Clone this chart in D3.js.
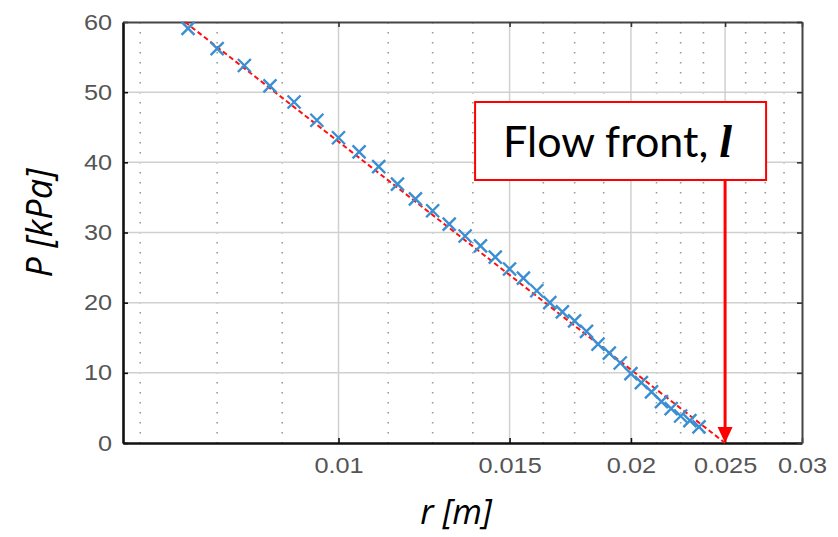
<!DOCTYPE html>
<html>
<head>
<meta charset="utf-8">
<script src="https://cdn.jsdelivr.net/npm/d3@7"></script>
<style>
  body { margin: 0; background: #fff; }
</style>
</head>
<body>
<div id="chart"></div>
<script>
// radius samples [m] and measured pressure [kPa]
let radius = [0.007, 0.0075, 0.008, 0.0085, 0.009, 0.0095, 0.010, 0.0105, 0.011, 0.0115,
              0.012, 0.0125, 0.013, 0.0135, 0.014, 0.0145, 0.015, 0.0155, 0.016, 0.0165,
              0.017, 0.0175, 0.018, 0.0185, 0.019, 0.0195, 0.020, 0.0205, 0.021, 0.0215,
              0.022, 0.0225, 0.023, 0.0235];
let pressure = [59.1, 56.2, 53.8, 50.9, 48.6, 46.0, 43.5, 41.5, 39.4, 36.9,
                34.8, 33.1, 31.2, 29.5, 28.1, 26.5, 24.8, 23.5, 21.7, 20.0,
                18.7, 17.4, 15.9, 14.1, 12.8, 11.4, 9.9, 8.6, 7.3, 5.9,
                4.9, 3.85, 3.2, 2.3];
// fitted line: from inlet to flow front l
let fitR = [0.00695, 0.025];
let fitP = [60, 0];
let flowFront = 0.025;

let xTicks = [0.01, 0.015, 0.02, 0.025, 0.03];
let xTickLabels = ['0.01', '0.015', '0.02', '0.025', '0.03'];
let xMinor = [0.00625, 0.0075, 0.00875, 0.01125, 0.0125, 0.01375, 0.01625, 0.0175, 0.01875,
              0.02125, 0.0225, 0.02375, 0.02625, 0.0275, 0.02875];
let yTicks = [0, 10, 20, 30, 40, 50, 60];

let dim = {'width': 838, 'height': 537};
let m = {left: 123, top: 22, right: 36, bottom: 94};
let w = dim.width - m.left - m.right;
let h = dim.height - m.top - m.bottom;

let svg = d3.select('#chart').append('svg').attr('width', dim.width).attr('height', dim.height);
let g = svg.append('g').attr('transform', `translate(${m.left},${m.top})`);

let x = d3.scaleLog().domain([0.006, 0.03]).range([0, w]);
let y = d3.scaleLinear().domain([0, 60]).range([h, 0]);

// minor dotted grid
g.selectAll('.minor').data(xMinor).enter().append('line')
    .attr('x1', d => x(d)).attr('x2', d => x(d))
    .attr('y1', 0).attr('y2', h)
    .attr('stroke', '#9a9a9a').attr('stroke-width', 1.6)
    .attr('stroke-dasharray', '1.6,8.4');

// major grid
g.selectAll('.vgrid').data(xTicks.slice(0, 4)).enter().append('line')
    .attr('x1', d => x(d)).attr('x2', d => x(d))
    .attr('y1', 0).attr('y2', h)
    .attr('stroke', '#d0d0d0').attr('stroke-width', 1.5);
g.selectAll('.hgrid').data(yTicks.slice(1, 6)).enter().append('line')
    .attr('x1', 0).attr('x2', w)
    .attr('y1', d => y(d)).attr('y2', d => y(d))
    .attr('stroke', '#d0d0d0').attr('stroke-width', 1.5);

// axes (ticks inward)
let axB = g.append('g').attr('transform', `translate(0,${h})`)
    .call(d3.axisBottom(x).tickValues(xTicks).tickFormat((d, i) => xTickLabels[i]).tickSizeInner(-5).tickSizeOuter(0).tickPadding(14));
let axL = g.append('g')
    .call(d3.axisLeft(y).tickValues(yTicks).tickSizeInner(-5).tickSizeOuter(0).tickPadding(11));
let axT = g.append('g')
    .call(d3.axisTop(x).tickValues(xTicks).tickFormat('').tickSizeInner(-5).tickSizeOuter(0));
let axR = g.append('g').attr('transform', `translate(${w},0)`)
    .call(d3.axisRight(y).tickValues(yTicks).tickFormat('').tickSizeInner(-5).tickSizeOuter(0));

[axB, axL].forEach(a => {
    a.select('.domain').attr('stroke', '#111').attr('stroke-width', 2.6);
    a.selectAll('.tick line').attr('stroke', '#111').attr('stroke-width', 1.6);
    a.selectAll('.tick text')
        .style('font-family', '"Liberation Sans", Arial, sans-serif')
        .style('font-size', '22px')
        .style('fill', '#555')
        .attr('transform', 'scale(1.15,1)');
});
axL.selectAll('.tick text').attr('x', -11 / 1.15);
[axT, axR].forEach(a => {
    a.select('.domain').attr('stroke', '#444').attr('stroke-width', 2);
    a.selectAll('.tick line').attr('stroke', '#333').attr('stroke-width', 1.6);
});
axB.selectAll('.tick text').attr('dy', '0.71em');

// fitted dashed line
let line = d3.line().x(d => x(d[0])).y(d => y(d[1]));
g.append('path')
    .datum(fitR.map((r, i) => [r, fitP[i]]))
    .attr('d', line)
    .attr('fill', 'none')
    .attr('stroke', '#ff1010').attr('stroke-width', 2)
    .attr('stroke-dasharray', '5,3');

// markers
let s = 6.5;
g.selectAll('.pt').data(radius.map((r, i) => [r, pressure[i]])).enter().append('path')
    .attr('d', d => {
        let cx = x(d[0]), cy = y(d[1]);
        return `M${cx - s},${cy - s}L${cx + s},${cy + s}M${cx - s},${cy + s}L${cx + s},${cy - s}`;
    })
    .attr('stroke', '#3a8fd2').attr('stroke-width', 2.4).attr('fill', 'none');

// annotation: flow front arrow + box
let ax = x(flowFront);
let boxTop = 80, boxBot = 158;
g.append('line')
    .attr('x1', ax).attr('x2', ax)
    .attr('y1', boxBot).attr('y2', h - 14)
    .attr('stroke', '#ff0000').attr('stroke-width', 3);
g.append('path')
    .attr('d', `M${ax - 7.5},${h - 16}L${ax + 7.5},${h - 16}L${ax},${h}Z`)
    .attr('fill', '#ff0000');
g.append('rect')
    .attr('x', ax - 250).attr('y', boxTop)
    .attr('width', 291).attr('height', boxBot - boxTop)
    .attr('fill', '#fff').attr('stroke', '#ff0000').attr('stroke-width', 2);
let ann = g.append('text')
    .attr('x', ax - 222).attr('y', 135)
    .style('font-family', 'Lato, "Open Sans", sans-serif')
    .attr('font-size', 43).attr('fill', '#000');
ann.append('tspan').text('Flow front, ');
ann.append('tspan').text('l')
    .style('font-family', '"Liberation Serif", "DejaVu Serif", serif')
    .style('font-style', 'italic').style('font-weight', 'bold').attr('font-size', 46);

// axis titles
svg.append('text')
    .attr('x', 456).attr('y', 524)
    .attr('text-anchor', 'middle')
    .style('font-family', '"Open Sans", Lato, sans-serif')
    .attr('font-style', 'italic').attr('font-size', 34)
    .text('r [m]');
svg.append('text')
    .attr('transform', 'translate(52,223) rotate(-90)')
    .attr('text-anchor', 'middle')
    .style('font-family', '"Open Sans", Lato, sans-serif')
    .attr('font-style', 'italic').attr('font-size', 36)
    .text('P [kPa]');
</script>
</body>
</html>
